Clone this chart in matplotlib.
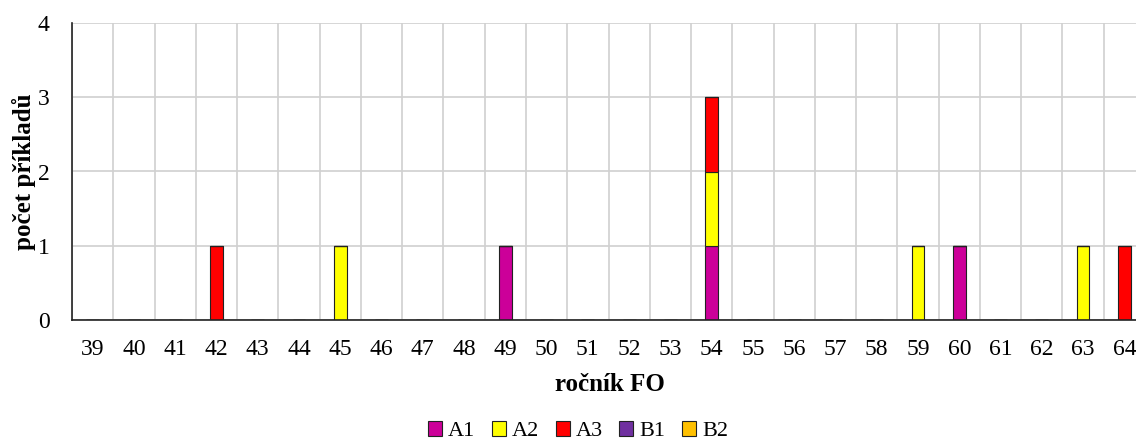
import matplotlib
matplotlib.use("Agg")
import matplotlib.pyplot as plt
import numpy as np

categories = [str(v) for v in range(39, 65)]
series_names = ["A1", "A2", "A3", "B1", "B2"]
A1 = [0,0,0,0,0,0,0,0,0,0,1,0,0,0,0,1,0,0,0,0,0,1,0,0,0,0]
A2 = [0,0,0,0,0,0,1,0,0,0,0,0,0,0,0,1,0,0,0,0,1,0,0,0,1,0]
A3 = [0,0,0,1,0,0,0,0,0,0,0,0,0,0,0,1,0,0,0,0,0,0,0,0,0,1]
B1 = [0]*26
B2 = [0]*26
colors = ["#CC0099", "#FFFF00", "#FF0000", "#7030A0", "#FFC000"]

plt.rcParams['font.family'] = ['Liberation Serif', 'DejaVu Serif']

fig = plt.figure(figsize=(11.36, 4.4), dpi=100)
left = 72/1136
right = 1145/1136
bottom = 1 - 320/440
top = 1 - 23/440
ax = fig.add_axes([left, bottom, right-left, top-bottom])

x = np.arange(len(categories))
base = np.zeros(len(categories))
for name, vals, c in zip(series_names, [A1, A2, A3, B1, B2], colors):
    v = np.array(vals, dtype=float)
    ax.bar(x, v, 0.31, bottom=base, color=c, edgecolor="#222222", linewidth=0.8, label=name, zorder=3)
    base += v

ax.set_xlim(-0.5, len(categories)-0.5)
ax.set_ylim(0, 4)
ax.set_yticks([0, 1, 2, 3, 4])
ax.set_xticks(x)
ax.set_xticklabels(categories)
ax.set_xticks(np.arange(-0.5, len(categories), 1), minor=True)
ax.grid(False)
ax.grid(True, which='minor', axis='x', color='#D0D0D0', linewidth=1.2, zorder=0)
ax.grid(True, which='major', axis='y', color='#D0D0D0', linewidth=1.2, zorder=0)
ax.tick_params(axis='both', which='both', length=0, labelsize=17)
ax.tick_params(axis='x', pad=14)
ax.tick_params(axis='y', pad=16)
for s in ['top', 'right']:
    ax.spines[s].set_visible(False)
for s in ['left', 'bottom']:
    ax.spines[s].set_color('#222222')
    ax.spines[s].set_linewidth(1.2)
    ax.spines[s].set_zorder(4)

ax.set_xlabel("ročník FO", fontsize=18, fontweight='bold')
ax.xaxis.set_label_coords((610 - 72)/1073, -(384 - 320)/297)
ax.xaxis.label.set_va('center')
ax.set_ylabel("počet příkladů", fontsize=18, fontweight='bold')
ax.yaxis.set_label_coords(-(72 - 24)/1073, 0.5)
ax.yaxis.label.set_va('center')

handles, labels = ax.get_legend_handles_labels()
fig.legend(handles, labels, loc='center', bbox_to_anchor=(578/1136, 1-431/440), ncol=5,
           frameon=False, fontsize=16, handlelength=0.63, handleheight=0.63,
           handletextpad=0.27, columnspacing=0.75)

fig.savefig("out.png", dpi=100)
